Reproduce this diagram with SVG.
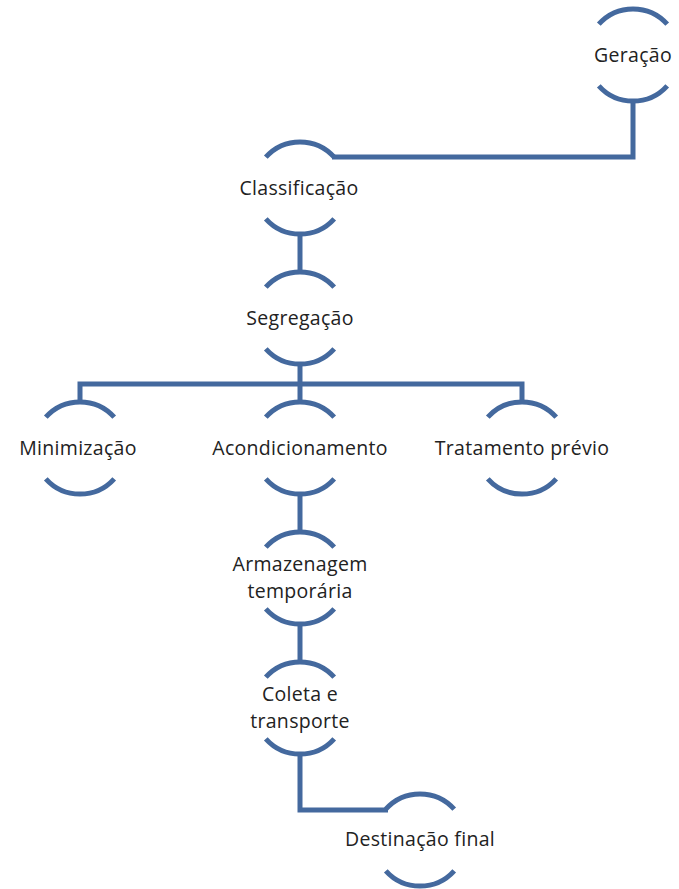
<svg xmlns="http://www.w3.org/2000/svg" width="679" height="889" viewBox="0 0 679 889">
<style>
.arc{fill:none;stroke:#44699e;stroke-width:5;stroke-linecap:butt}
.con{fill:none;stroke:#44699e;stroke-width:5;stroke-linejoin:miter}
.t{font-family:"Open Sans","Noto Sans",sans-serif;font-size:19.5px;letter-spacing:0.3px;fill:#222;text-anchor:middle}
</style>
<defs>
<path id="node" class="arc" d="M-34.2,-30.8 A46,46 0 0 1 34.2,-30.8 M-34.2,30.8 A46,46 0 0 0 34.2,30.8"/>
</defs>
<g id="connectors">
<path class="con" d="M633,101 V157 H332"/>
<path class="con" d="M300,234 V272"/>
<path class="con" d="M300,364 V384"/>
<path class="con" d="M80,402 V384 H522 V402"/>
<path class="con" d="M300,384 V402"/>
<path class="con" d="M300,494 V532"/>
<path class="con" d="M300,624 V662"/>
<path class="con" d="M300,754 V810 H388"/>
</g>
<g id="geracao"><use href="#node" x="633" y="55"/><text class="t" x="633" y="62">Geração</text></g>
<g id="classificacao"><use href="#node" x="300" y="188"/><text class="t" x="299" y="195">Classificação</text></g>
<g id="segregacao"><use href="#node" x="300" y="318"/><text class="t" x="300" y="325">Segregação</text></g>
<g id="minimizacao"><use href="#node" x="80" y="448"/><text class="t" x="78" y="455">Minimização</text></g>
<g id="acondicionamento"><use href="#node" x="300" y="448"/><text class="t" x="300" y="455">Acondicionamento</text></g>
<g id="tratamento"><use href="#node" x="522" y="448"/><text class="t" x="522" y="455">Tratamento prévio</text></g>
<g id="armazenagem"><use href="#node" x="300" y="578"/><text class="t" x="300" y="571">Armazenagem</text><text class="t" x="300" y="598">temporária</text></g>
<g id="coleta"><use href="#node" x="300" y="708"/><text class="t" x="300" y="701">Coleta e</text><text class="t" x="300" y="728">transporte</text></g>
<g id="destinacao"><use href="#node" x="420" y="840"/><text class="t" x="420" y="846">Destinação final</text></g>
</svg>
